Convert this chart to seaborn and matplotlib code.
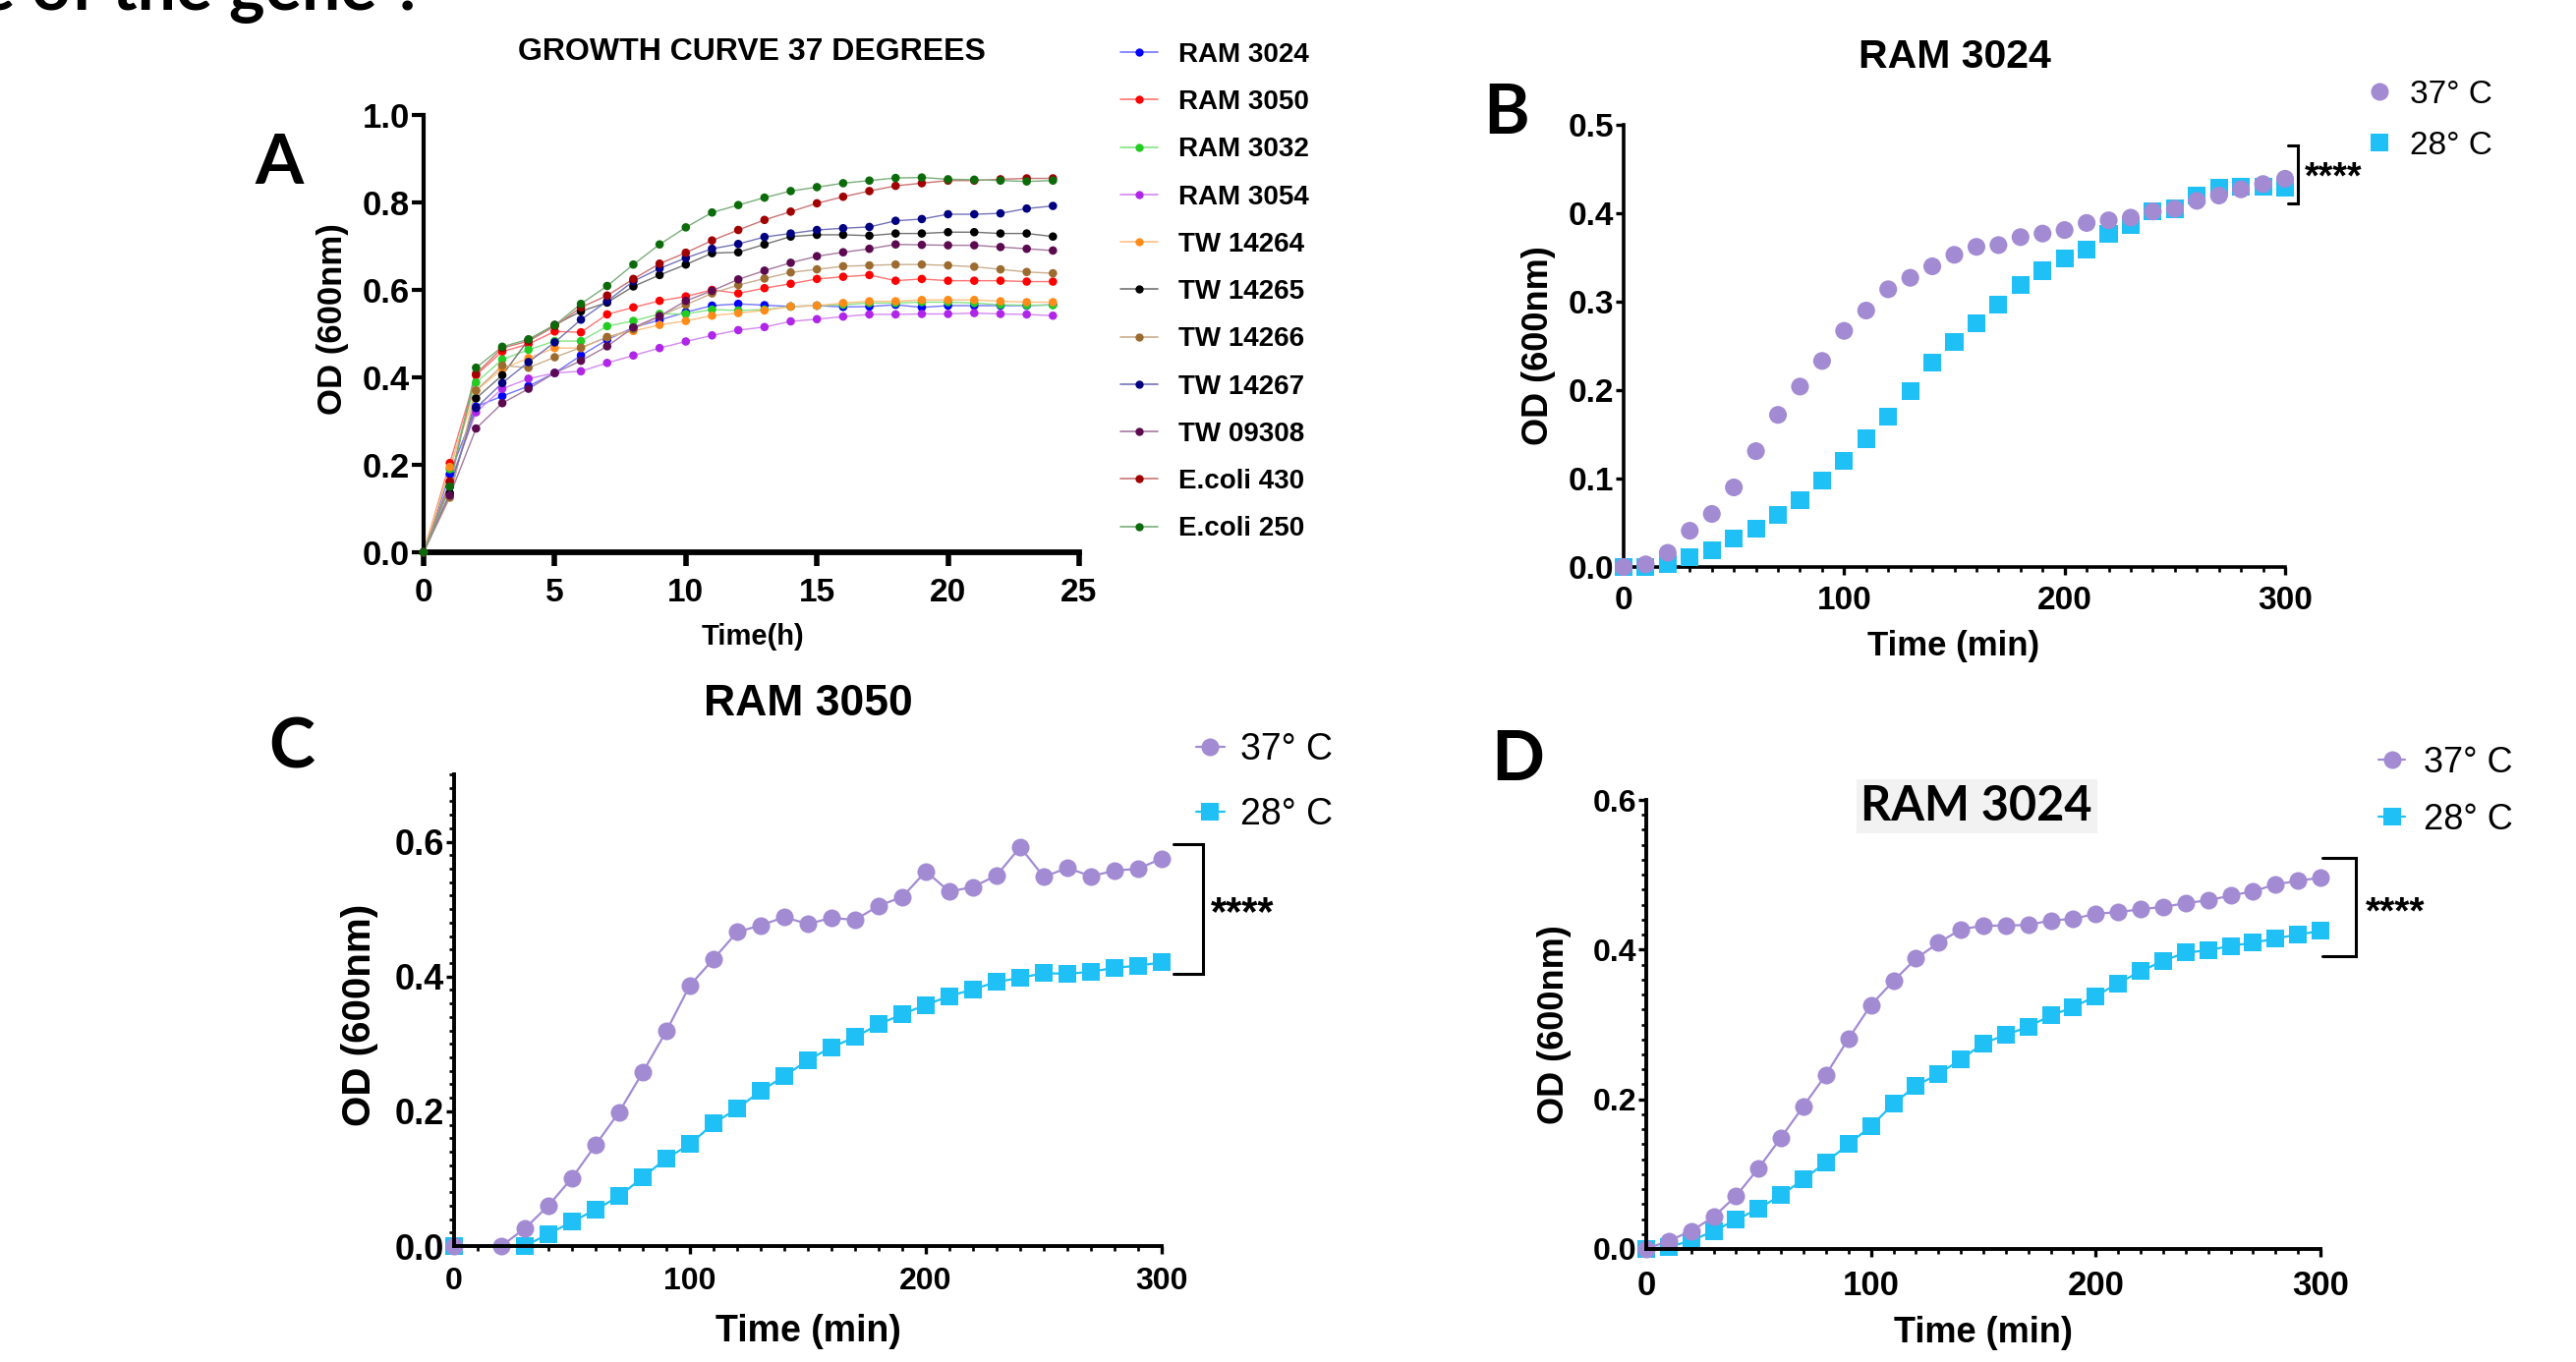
import numpy as np
import pandas as pd
import matplotlib
matplotlib.use('Agg')
import matplotlib.pyplot as plt
import matplotlib.colors as mcolors
from matplotlib.lines import Line2D
from matplotlib.ticker import MultipleLocator, FormatStrFormatter
import seaborn as sns

# ---------------- data ----------------
# Panel A: growth curve at 37 degrees, OD600 every hour
hours = list(range(25))
strains = ['RAM 3024', 'RAM 3050', 'RAM 3032', 'RAM 3054', 'TW 14264', 'TW 14265',
           'TW 14266', 'TW 14267', 'TW 09308', 'E.coli 430', 'E.coli 250']
strain_colors = ['#0000FF', '#FF0000', '#22CC22', '#B026E8', '#FF8C1A', '#000000',
                 '#9C6B30', '#000080', '#5C0A50', '#A00000', '#0B6B0B']

od_ram3024 = [0, 0.179, 0.333, 0.357, 0.380, 0.410, 0.450, 0.486, 0.514, 0.531, 0.549, 0.564, 0.568,
              0.565, 0.562, 0.564, 0.561, 0.562, 0.566, 0.560, 0.564, 0.564, 0.564, 0.564, 0.566]
od_ram3050 = [0, 0.204, 0.405, 0.459, 0.476, 0.505, 0.503, 0.544, 0.560, 0.575, 0.585, 0.600, 0.592,
              0.604, 0.614, 0.625, 0.630, 0.634, 0.621, 0.625, 0.621, 0.621, 0.621, 0.619, 0.619]
od_ram3032 = [0, 0.190, 0.388, 0.441, 0.463, 0.483, 0.483, 0.517, 0.529, 0.545, 0.545, 0.555, 0.553,
              0.555, 0.562, 0.564, 0.566, 0.570, 0.570, 0.572, 0.572, 0.570, 0.566, 0.565, 0.565]
od_ram3054 = [0, 0.160, 0.320, 0.374, 0.397, 0.410, 0.414, 0.433, 0.450, 0.467, 0.482, 0.496, 0.508,
              0.515, 0.528, 0.533, 0.539, 0.544, 0.544, 0.545, 0.545, 0.547, 0.545, 0.544, 0.541]
od_tw14264 = [0, 0.195, 0.369, 0.420, 0.444, 0.467, 0.467, 0.492, 0.506, 0.520, 0.529, 0.541, 0.547,
              0.553, 0.562, 0.564, 0.570, 0.574, 0.574, 0.577, 0.577, 0.577, 0.574, 0.572, 0.572]
od_tw14265 = [0, 0.135, 0.352, 0.405, 0.486, 0.520, 0.551, 0.571, 0.608, 0.634, 0.658, 0.684, 0.686,
              0.704, 0.722, 0.726, 0.726, 0.724, 0.729, 0.729, 0.732, 0.732, 0.729, 0.729, 0.722]
od_tw14266 = [0, 0.125, 0.370, 0.427, 0.422, 0.446, 0.468, 0.492, 0.510, 0.540, 0.566, 0.592, 0.611,
              0.626, 0.640, 0.647, 0.654, 0.656, 0.658, 0.658, 0.656, 0.653, 0.647, 0.641, 0.638]
od_tw14267 = [0, 0.150, 0.330, 0.387, 0.435, 0.480, 0.532, 0.574, 0.620, 0.649, 0.673, 0.694, 0.705,
              0.721, 0.729, 0.737, 0.741, 0.744, 0.758, 0.762, 0.773, 0.773, 0.775, 0.786, 0.792]
od_tw09308 = [0, 0.130, 0.283, 0.341, 0.374, 0.410, 0.438, 0.471, 0.514, 0.540, 0.575, 0.598, 0.624,
              0.644, 0.662, 0.677, 0.686, 0.694, 0.704, 0.703, 0.702, 0.702, 0.698, 0.694, 0.690]
od_ecoli430 = [0, 0.162, 0.408, 0.467, 0.483, 0.517, 0.560, 0.587, 0.625, 0.660, 0.685, 0.713, 0.737,
               0.760, 0.779, 0.798, 0.813, 0.826, 0.838, 0.844, 0.850, 0.850, 0.853, 0.855, 0.855]
od_ecoli250 = [0, 0.150, 0.422, 0.470, 0.487, 0.519, 0.568, 0.609, 0.658, 0.704, 0.743, 0.777, 0.794,
               0.811, 0.826, 0.835, 0.844, 0.850, 0.856, 0.857, 0.853, 0.852, 0.850, 0.848, 0.850]
series_a = [od_ram3024, od_ram3050, od_ram3032, od_ram3054, od_tw14264, od_tw14265,
            od_tw14266, od_tw14267, od_tw09308, od_ecoli430, od_ecoli250]

# Panels B-D: 37 vs 28 degrees, OD600 every 10 min
temps = ['37° C', '28° C']
temp_colors = {'37° C': '#A38BD4', '28° C': '#1EC0F5'}
temp_markers = {'37° C': 'o', '28° C': 's'}
minutes = list(range(0, 301, 10))

b_od_37 = [0.0, 0.003, 0.016, 0.041, 0.060, 0.090, 0.131, 0.172, 0.204, 0.233, 0.267, 0.290, 0.314,
           0.327, 0.340, 0.353, 0.362, 0.364, 0.373, 0.377, 0.381, 0.389, 0.392, 0.395, 0.402, 0.405,
           0.414, 0.420, 0.427, 0.433, 0.439]
b_od_28 = [0.0, 0.0, 0.003, 0.011, 0.019, 0.032, 0.043, 0.059, 0.076, 0.098, 0.120, 0.145, 0.170,
           0.199, 0.231, 0.254, 0.276, 0.297, 0.319, 0.335, 0.349, 0.359, 0.377, 0.387, 0.402, 0.405,
           0.420, 0.429, 0.430, 0.430, 0.429]

c_min_37 = [0, 20, 30, 40, 50, 60, 70, 80, 90, 100, 110, 120, 130, 140, 150, 160, 170, 180, 190, 200,
            210, 220, 230, 240, 250, 260, 270, 280, 290, 300]
c_od_37 = [0.0, 0.0, 0.026, 0.060, 0.101, 0.150, 0.199, 0.258, 0.319, 0.387, 0.426, 0.466, 0.476,
           0.488, 0.478, 0.487, 0.484, 0.505, 0.518, 0.556, 0.526, 0.533, 0.550, 0.592, 0.548, 0.561,
           0.549, 0.557, 0.560, 0.575]
c_min_28 = [0, 30, 40, 50, 60, 70, 80, 90, 100, 110, 120, 130, 140, 150, 160, 170, 180, 190, 200,
            210, 220, 230, 240, 250, 260, 270, 280, 290, 300]
c_od_28 = [0.0, 0.0, 0.018, 0.036, 0.054, 0.074, 0.102, 0.130, 0.151, 0.182, 0.204, 0.230, 0.252,
           0.276, 0.295, 0.310, 0.329, 0.344, 0.358, 0.371, 0.381, 0.392, 0.398, 0.405, 0.404, 0.407,
           0.413, 0.416, 0.421]

d_od_37 = [0.0, 0.011, 0.024, 0.043, 0.071, 0.108, 0.149, 0.191, 0.233, 0.281, 0.326, 0.358, 0.388,
           0.409, 0.427, 0.432, 0.432, 0.433, 0.439, 0.441, 0.448, 0.450, 0.454, 0.457, 0.462, 0.466,
           0.472, 0.478, 0.487, 0.492, 0.496]
d_od_28 = [0.0, 0.003, 0.011, 0.024, 0.039, 0.054, 0.072, 0.093, 0.116, 0.140, 0.164, 0.194, 0.218,
           0.234, 0.253, 0.275, 0.286, 0.297, 0.312, 0.323, 0.338, 0.355, 0.371, 0.385, 0.396, 0.399,
           0.405, 0.409, 0.415, 0.420, 0.425]

# ---------------- style ----------------
sns.set_style('ticks')
plt.rcParams['font.family'] = ['Liberation Sans', 'DejaVu Sans']
plt.rcParams['font.weight'] = 'bold'
plt.rcParams['axes.labelweight'] = 'bold'
plt.rcParams['axes.titleweight'] = 'bold'
for key in ['axes.edgecolor', 'xtick.color', 'ytick.color', 'text.color',
            'axes.labelcolor', 'xtick.labelcolor', 'ytick.labelcolor']:
    plt.rcParams[key] = 'black'

W, H = 2621, 1386
fig = plt.figure(figsize=(W / 100, H / 100), dpi=100)


def px_axes(x0, x1, y_top, y_bottom):
    """axes rectangle from pixel edges of the reference"""
    return fig.add_axes([x0 / W, 1 - y_bottom / H, (x1 - x0) / W, (y_bottom - y_top) / H])


def lighten(color, amount):
    r, g, b = mcolors.to_rgb(color)
    return (r + (1 - r) * amount, g + (1 - g) * amount, b + (1 - b) * amount)


def style_axes(ax, spine_lw, major_len, tick_w, xsize, ysize, xpad, minor_len=0):
    sns.despine(ax=ax)
    for side in ['left', 'bottom']:
        ax.spines[side].set_linewidth(spine_lw)
        ax.spines[side].set_capstyle('projecting')
    ax.tick_params(which='major', length=major_len, width=tick_w)
    ax.tick_params(which='minor', length=minor_len, width=tick_w * 0.8)
    ax.tick_params(axis='x', which='major', pad=xpad, labelsize=xsize)
    ax.tick_params(axis='y', which='major', pad=1, labelsize=ysize)


def place_labels(ax, xlabel, ylabel, size_x, size_y, xl_pos, yl_pos):
    ax.set_xlabel(xlabel, fontsize=size_x)
    ax.set_ylabel(ylabel, fontsize=size_y)
    ax.xaxis.label.set_va('center')
    ax.yaxis.label.set_va('center')
    ax.xaxis.set_label_coords(*xl_pos)
    ax.yaxis.set_label_coords(*yl_pos)


def temp_legend(ax, anchor_px, size, with_line, handlelength, textpad, spacing):
    handles = [Line2D([], [], color=temp_colors[t], lw=1.6 if with_line else 0,
                      marker=temp_markers[t], markersize=13, markeredgewidth=0)
               for t in temps]
    ax.legend(handles, temps, loc='upper left',
              bbox_to_anchor=(anchor_px[0] / W, 1 - anchor_px[1] / H),
              bbox_transform=fig.transFigure, frameon=False,
              prop={'size': size, 'weight': 'normal'}, handlelength=handlelength,
              handletextpad=textpad, labelspacing=spacing, borderpad=0, borderaxespad=0)


def significance(ax, arm_x, spine_x, lo, hi, star_x, star_y, size):
    ax.plot([arm_x, spine_x, spine_x, arm_x], [lo, lo, hi, hi], color='black', lw=2.2,
            clip_on=False, solid_joinstyle='miter')
    ax.text(star_x, star_y, '****', fontsize=size, ha='left', va='center', clip_on=False)


def long_temp_frame(t37, od37, t28, od28):
    # 28 degrees first so the 37 degree markers sit on top
    return pd.concat([
        pd.DataFrame({'Time (min)': t28, 'OD': od28, 'temp': '28° C'}),
        pd.DataFrame({'Time (min)': t37, 'OD': od37, 'temp': '37° C'}),
    ], ignore_index=True)


# ---------------- panel A ----------------
axA = px_axes(431, 1098, 117, 562)
dfA = pd.concat([pd.DataFrame({'Time(h)': hours, 'OD': v, 'strain': s})
                 for s, v in zip(strains, series_a)], ignore_index=True)
palA = dict(zip(strains, strain_colors))
sns.lineplot(data=dfA, x='Time(h)', y='OD', hue='strain', hue_order=strains,
             palette={s: lighten(c, 0.45) for s, c in palA.items()}, lw=1.0,
             estimator=None, errorbar=None, legend=False, ax=axA)
sns.scatterplot(data=dfA, x='Time(h)', y='OD', hue='strain', hue_order=strains, palette=palA,
                s=38, linewidth=0, legend=False, ax=axA, clip_on=False, zorder=3)
axA.set_xlim(0, 25)
axA.set_ylim(0, 1.0)
axA.xaxis.set_major_locator(MultipleLocator(5))
axA.yaxis.set_major_locator(MultipleLocator(0.2))
axA.yaxis.set_major_formatter(FormatStrFormatter('%.1f'))
style_axes(axA, 3.0, 9, 3.0, 24, 25, 9)
axA.spines['bottom'].set_linewidth(4.2)
axA.tick_params(axis='x', width=4.0, length=10)
place_labels(axA, 'Time(h)', 'OD (600nm)', 21, 25, (0.502, -0.193), (-0.138, 0.533))
axA.set_title('GROWTH CURVE 37 DEGREES', fontsize=23, y=1.144, pad=0, va='center')
handlesA = [Line2D([], [], color=lighten(c, 0.45), lw=1.2, marker='o', markersize=6,
                   markerfacecolor=c, markeredgewidth=0) for c in strain_colors]
axA.legend(handlesA, strains, loc='upper left', bbox_to_anchor=(1140 / W, 1 - 43 / H),
           bbox_transform=fig.transFigure, frameon=False, fontsize=20, handlelength=1.37,
           handletextpad=0.75, labelspacing=0.80, borderpad=0, borderaxespad=0)

# ---------------- panel B ----------------
axB = px_axes(1652, 2325, 127, 577)
dfB = long_temp_frame(minutes, b_od_37, minutes, b_od_28)
sns.scatterplot(data=dfB, x='Time (min)', y='OD', hue='temp', style='temp',
                markers=temp_markers, palette=temp_colors, s=170, linewidth=0,
                legend=False, ax=axB, clip_on=False, zorder=3)
axB.set_xlim(0, 300)
axB.set_ylim(0, 0.5)
axB.xaxis.set_major_locator(MultipleLocator(100))
axB.xaxis.set_minor_locator(MultipleLocator(10))
axB.yaxis.set_major_locator(MultipleLocator(0.1))
axB.yaxis.set_major_formatter(FormatStrFormatter('%.1f'))
style_axes(axB, 2.6, 6, 2.4, 24, 24, 8, minor_len=3.5)
place_labels(axB, 'Time (min)', 'OD (600nm)', 25, 26, (0.498, -0.178), (-0.129, 0.5))
axB.set_title('RAM 3024', fontsize=29.5, y=1.153, pad=0, va='center')
temp_legend(axB, (2404, 81), 24, False, 1.0, 0.44, 0.63)
significance(axB, 301.5, 306, 0.411, 0.477, 309, 0.440, 27)

# ---------------- panel C ----------------
axC = px_axes(462, 1182, 788, 1268)
dfC = long_temp_frame(c_min_37, c_od_37, c_min_28, c_od_28)
sns.lineplot(data=dfC, x='Time (min)', y='OD', hue='temp', hue_order=['28° C', '37° C'],
             style='temp', markers=temp_markers, dashes=False, palette=temp_colors,
             markersize=13, markeredgewidth=0, lw=1.6, estimator=None, errorbar=None,
             legend=False, ax=axC, clip_on=False)
axC.set_xlim(0, 300)
axC.set_ylim(0, 0.7)
axC.xaxis.set_major_locator(MultipleLocator(100))
axC.xaxis.set_minor_locator(MultipleLocator(10))
axC.yaxis.set_major_locator(MultipleLocator(0.2))
axC.yaxis.set_minor_locator(MultipleLocator(0.02))
axC.yaxis.set_major_formatter(FormatStrFormatter('%.1f'))
style_axes(axC, 2.8, 6, 2.4, 23, 26, 9, minor_len=3.5)
place_labels(axC, 'Time (min)', 'OD (600nm)', 27, 29, (0.5, -0.181), (-0.133, 0.49))
axC.set_title('RAM 3050', fontsize=32, y=1.15, pad=0, va='center')
temp_legend(axC, (1217, 745), 27, True, 0.77, 0.43, 0.79)
significance(axC, 305, 317.6, 0.404, 0.597, 321, 0.493, 30)

# ---------------- panel D ----------------
axD = px_axes(1675, 2361, 814, 1271)
dfD = long_temp_frame(minutes, d_od_37, minutes, d_od_28)
sns.lineplot(data=dfD, x='Time (min)', y='OD', hue='temp', hue_order=['28° C', '37° C'],
             style='temp', markers=temp_markers, dashes=False, palette=temp_colors,
             markersize=13, markeredgewidth=0, lw=1.6, estimator=None, errorbar=None,
             legend=False, ax=axD, clip_on=False)
axD.set_xlim(0, 300)
axD.set_ylim(0, 0.6)
axD.xaxis.set_major_locator(MultipleLocator(100))
axD.xaxis.set_minor_locator(MultipleLocator(10))
axD.yaxis.set_major_locator(MultipleLocator(0.2))
axD.yaxis.set_minor_locator(MultipleLocator(0.02))
axD.yaxis.set_major_formatter(FormatStrFormatter('%.1f'))
style_axes(axD, 2.8, 6, 2.4, 25, 23, 9, minor_len=3.5)
place_labels(axD, 'Time (min)', 'OD (600nm)', 26, 26, (0.5, -0.188), (-0.137, 0.5))
axD.text(0.49, 0.985, 'RAM 3024', transform=axD.transAxes, ha='center', va='center',
         fontsize=35, family=['Lato', 'DejaVu Sans'], weight='bold',
         bbox=dict(boxstyle='square,pad=0.1', facecolor='#F2F2F2', edgecolor='none'))
temp_legend(axD, (2420, 759), 26, True, 0.75, 0.53, 0.63)
significance(axD, 301, 315.7, 0.391, 0.522, 320, 0.448, 28)

# ---------------- panel letters & clipped heading ----------------
for letter, (px, py) in {'A': (284, 187), 'B': (1533, 136), 'C': (297, 781), 'D': (1544, 794)}.items():
    fig.text(px / W, 1 - py / H, letter, fontsize=51, family=['Lato', 'DejaVu Sans'],
             weight='bold', ha='center', va='baseline')
# heading of the slide, cut by the top edge as in the source image
fig.text(-22 / W, 1 - 10 / H, 'e of the gene ?', fontsize=50, family=['Lato', 'DejaVu Sans'],
         weight='bold', ha='left', va='baseline')

fig.savefig('out.png', dpi=100)
